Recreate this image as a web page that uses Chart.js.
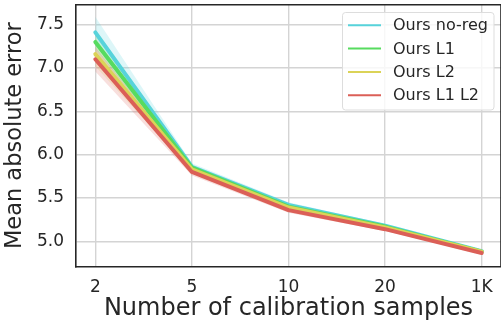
<!DOCTYPE html>
<html>
<head>
<meta charset="utf-8">
<script src="https://cdn.jsdelivr.net/npm/chart.js@4/dist/chart.umd.min.js"></script>
<style>
  html, body { margin: 0; padding: 0; background: #fff; }
  #wrap { width: 501px; height: 322px; }
</style>
</head>
<body>
<div id="wrap"><canvas id="myChart"></canvas></div>
<script>
// 데이터
const xLabels = ['2', '5', '10', '20', '1K'];
const seriesNames = ['Ours no-reg', 'Ours L1', 'Ours L2', 'Ours L1 L2'];
const seriesColors = ['#57d3db', '#57db5f', '#dbd357', '#db5f57'];

const noReg = [7.41, 5.86, 5.42, 5.18, 4.885];
const l1    = [7.30, 5.85, 5.40, 5.17, 4.88];
const l2    = [7.16, 5.83, 5.39, 5.16, 4.88];
const l1l2  = [7.10, 5.80, 5.36, 5.14, 4.865];

// 표준편차 (음영 영역)
const noRegStd = [0.18, 0.04, 0.03, 0.02, 0.01];
const l1Std    = [0.10, 0.03, 0.02, 0.015, 0.01];
const l2Std    = [0.14, 0.03, 0.02, 0.015, 0.01];
const l1l2Std  = [0.14, 0.04, 0.03, 0.02, 0.01];

const yTicks = [5.0, 5.5, 6.0, 6.5, 7.0, 7.5];

const allMeans = [noReg, l1, l2, l1l2];
const allStds = [noRegStd, l1Std, l2Std, l1l2Std];

function hexToRgba(hex, a) {
  const n = parseInt(hex.slice(1), 16);
  return 'rgba(' + (n >> 16 & 255) + ',' + (n >> 8 & 255) + ',' + (n & 255) + ',' + a + ')';
}

const datasets = [];
// 음영 영역 먼저 (아래에 그려지도록 order 큰 값)
allMeans.forEach(function (mean, s) {
  const std = allStds[s];
  datasets.push({
    label: 'band-hi-' + s,
    data: mean.map((v, i) => ({ x: i, y: v + std[i] })),
    borderWidth: 0,
    pointRadius: 0,
    backgroundColor: hexToRgba(seriesColors[s], 0.2),
    fill: '+1',
    order: 20 - s
  });
  datasets.push({
    label: 'band-lo-' + s,
    data: mean.map((v, i) => ({ x: i, y: v - std[i] })),
    borderWidth: 0,
    pointRadius: 0,
    fill: false,
    order: 20 - s
  });
});
// 선
allMeans.forEach(function (mean, s) {
  datasets.push({
    label: seriesNames[s],
    data: mean.map((v, i) => ({ x: i, y: v })),
    borderColor: seriesColors[s],
    borderWidth: 4,
    pointRadius: 0,
    fill: false,
    tension: 0,
    borderJoinStyle: 'round',
    borderCapStyle: 'round',
    order: 3 - s
  });
});

// 위/오른쪽 테두리 + 범례
const framePlugin = {
  id: 'frame',
  afterDraw(chart) {
    const ctx = chart.ctx;
    const a = chart.chartArea;
    ctx.save();
    ctx.strokeStyle = '#262626';
    ctx.lineWidth = 1.6;
    ctx.beginPath();
    ctx.moveTo(a.left, a.top);
    ctx.lineTo(a.right, a.top);
    ctx.lineTo(a.right, a.bottom);
    ctx.stroke();

    // 범례 상자
    const bx = 342.5, by = 12.5, bw = 151.5, bh = 97.5;
    ctx.beginPath();
    ctx.roundRect(bx, by, bw, bh, 3);
    ctx.fillStyle = 'rgba(255,255,255,0.8)';
    ctx.fill();
    ctx.strokeStyle = '#dddddd';
    ctx.lineWidth = 1;
    ctx.stroke();

    ctx.font = '16px "DejaVu Sans"';
    ctx.textBaseline = 'middle';
    ctx.textAlign = 'left';
    seriesNames.forEach(function (name, s) {
      const y = 25.3 + s * 23.3;
      ctx.strokeStyle = seriesColors[s];
      ctx.lineWidth = 2;
      ctx.beginPath();
      ctx.moveTo(348, y);
      ctx.lineTo(381, y);
      ctx.stroke();
      ctx.fillStyle = '#262626';
      ctx.fillText(name, 393, y + 1);
    });
    ctx.restore();
  }
};

new Chart(document.getElementById('myChart'), {
  type: 'line',
  data: { datasets: datasets },
  options: {
    responsive: true,
    maintainAspectRatio: false,
    animation: false,
    devicePixelRatio: 1,
    layout: { padding: { top: 4.7, right: 0, bottom: 0, left: 0 } },
    plugins: {
      legend: { display: false },
      tooltip: { enabled: false },
      filler: { propagate: false }
    },
    scales: {
      x: {
        type: 'linear',
        min: -0.2,
        max: 4.2,
        afterFit(scale) {
          scale.height = 55.3;
          scale.paddingLeft = 0;
          scale.paddingRight = 0;
        },
        afterBuildTicks(scale) {
          scale.ticks = xLabels.map((_, i) => ({ value: i }));
        },
        ticks: {
          callback: (v) => xLabels[v],
          font: { family: 'DejaVu Sans', size: 17 },
          color: '#262626',
          padding: 10.5,
          maxRotation: 0,
          autoSkip: false
        },
        grid: { color: '#d4d4d4', lineWidth: 1.4, drawTicks: false },
        border: { display: true, color: '#262626', width: 1.6 },
        title: {
          display: true,
          text: 'Number of calibration samples',
          font: { family: 'DejaVu Sans', size: 24, lineHeight: 1.1 },
          color: '#262626',
          padding: { top: 0, bottom: 0 }
        }
      },
      y: {
        min: 4.707,
        max: 7.73,
        afterFit(scale) {
          scale.width = 76;
          scale.paddingTop = 0;
          scale.paddingBottom = 0;
        },
        afterBuildTicks(scale) {
          scale.ticks = yTicks.map(v => ({ value: v }));
        },
        ticks: {
          callback: (v) => v.toFixed(1),
          font: { family: 'DejaVu Sans', size: 17 },
          color: '#262626',
          padding: 12
        },
        grid: { color: '#d4d4d4', lineWidth: 1.4, drawTicks: false },
        border: { display: true, color: '#262626', width: 1.6 },
        title: {
          display: true,
          text: 'Mean absolute error',
          font: { family: 'DejaVu Sans', size: 22.5, lineHeight: 1.2 },
          color: '#262626',
          padding: { top: 2, bottom: 0 }
        }
      }
    }
  },
  plugins: [framePlugin]
});
</script>
</body>
</html>
